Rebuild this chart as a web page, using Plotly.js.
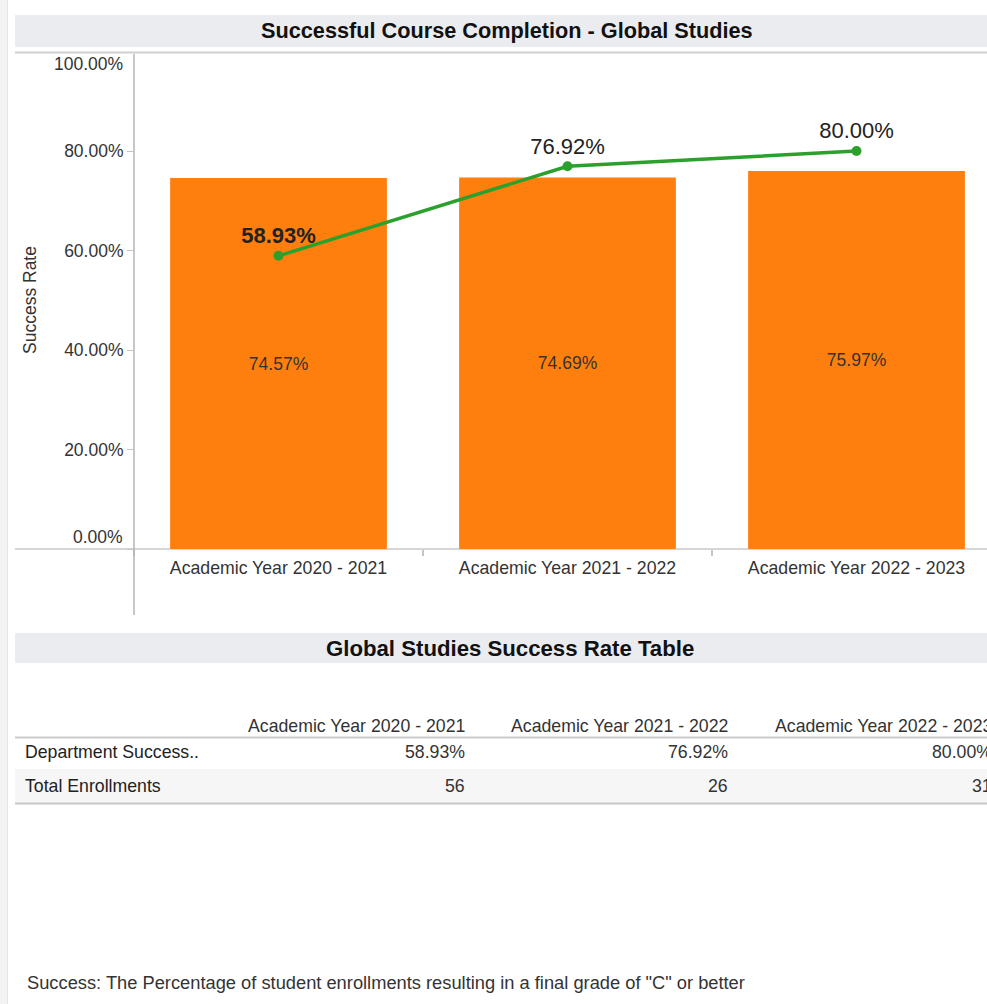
<!DOCTYPE html>
<html>
<head>
<meta charset="utf-8">
<script src="https://cdn.plot.ly/plotly-3.0.1.min.js"></script>
<style>
html,body{margin:0;padding:0;background:#fff;overflow:hidden;}
#chart{width:987px;height:1004px;}
</style>
</head>
<body>
<div id="chart"></div>
<script>
// ---- data ----
const categories = ['Academic Year 2020 - 2021', 'Academic Year 2021 - 2022', 'Academic Year 2022 - 2023'];
const overallRate = [0.7457, 0.7469, 0.7597];
const deptRate = [0.5893, 0.7692, 0.8000];
const enrollments = [56, 26, 31];
const yTickVals = [0, 0.2, 0.4, 0.6, 0.8, 1];
const rowLabels = ['Department Success..', 'Total Enrollments'];
const chartTitle = 'Successful Course Completion - Global Studies';
const tableTitle = 'Global Studies Success Rate Table';
const yTitle = 'Success Rate';
const footnote = 'Success: The Percentage of student enrollments resulting in a final grade of "C" or better';

// ---- layout helpers ----
const W = 987, H = 1004;
const px = v => v / W;
const py = v => 1 - v / H;
const FONT = '"Liberation Sans", Arial, sans-serif';
const pct = v => (v * 100).toFixed(2) + '%';
const TXT = 17.7;

const bars = {
  type: 'bar', x: categories, y: overallRate,
  marker: {color: '#ff7f0e'}, width: 0.75,
  texttemplate: '%{y:.2%}', textposition: 'inside', insidetextanchor: 'middle',
  textangle: 0, constraintext: 'none',
  insidetextfont: {family: FONT, size: 17.5, color: '#333'},
  hoverinfo: 'skip', showlegend: false
};
const line = {
  type: 'scatter', mode: 'lines+markers+text', x: categories, y: deptRate,
  line: {color: '#2ca02c', width: 3.5}, marker: {color: '#2ca02c', size: 10},
  text: deptRate.map(pct), textposition: 'top center',
  textfont: {family: FONT, size: 22, color: '#222', weight: [700, 400, 400]},
  hoverinfo: 'skip', showlegend: false, cliponaxis: false
};

const innerTicks = yTickVals.filter(v => v < 1);

const shapes = [
  {type:'rect', xref:'paper', yref:'paper', x0:0, x1:px(7), y0:0, y1:1, fillcolor:'#f3f3f3', line:{width:0}, layer:'below'},
  {type:'line', xref:'paper', yref:'paper', x0:px(7.5), x1:px(7.5), y0:0, y1:1, line:{color:'#e4e4e4', width:1}, layer:'below'},
  {type:'rect', xref:'paper', yref:'paper', x0:px(15), x1:1, y0:py(47), y1:py(15), fillcolor:'#ebecf0', line:{width:0}, layer:'below'},
  {type:'line', xref:'paper', yref:'paper', x0:px(15), x1:1, y0:py(52.5), y1:py(52.5), line:{color:'#cfcfcf', width:2}, layer:'below'},
  {type:'rect', xref:'paper', yref:'paper', x0:px(15), x1:1, y0:py(663), y1:py(633), fillcolor:'#ebecf0', line:{width:0}, layer:'below'},
  {type:'line', xref:'paper', yref:'paper', x0:px(134), x1:px(134), y0:py(54), y1:py(615), line:{color:'#b4b4b4', width:1.5}, layer:'above'},
  {type:'line', xref:'paper', yref:'paper', x0:px(15), x1:1, y0:py(549), y1:py(549), line:{color:'#d6d6d6', width:2}, layer:'below'},
  {type:'line', xref:'paper', yref:'paper', x0:px(15), x1:1, y0:py(737.5), y1:py(737.5), line:{color:'#cccccc', width:2}, layer:'below'},
  {type:'rect', xref:'paper', yref:'paper', x0:px(15), x1:1, y0:py(803), y1:py(769), fillcolor:'#f6f6f6', line:{width:0}, layer:'below'},
  {type:'line', xref:'paper', yref:'paper', x0:px(15), x1:1, y0:py(803.5), y1:py(803.5), line:{color:'#c8c8c8', width:2}, layer:'below'}
];

const ann = [];
const A = o => Object.assign({showarrow:false, borderpad:0, borderwidth:0, xref:'paper', yref:'paper', yanchor:'middle'}, o);
ann.push(A({x:px(507), y:py(31), text:'<b>'+chartTitle+'</b>', xanchor:'center', font:{family:FONT, size:21.7, color:'#111'}}));
ann.push(A({x:px(510), y:py(648), text:'<b>'+tableTitle+'</b>', xanchor:'center', font:{family:FONT, size:22.2, color:'#111'}}));
ann.push(A({x:px(30), y:py(300), text:yTitle, textangle:-90, xanchor:'center', font:{family:FONT, size:17.5, color:'#333'}}));
ann.push(A({yref:'y', x:px(122.5), y:yTickVals[0], yshift:12, text:pct(yTickVals[0]), xanchor:'right', font:{family:FONT, size:17.5, color:'#333'}}));
ann.push(A({yref:'y', x:px(122.5), y:yTickVals[yTickVals.length-1], yshift:-13, text:pct(yTickVals[yTickVals.length-1]), xanchor:'right', font:{family:FONT, size:17.5, color:'#333'}}));

// table
const colRight = [465, 728, 992];
const rowY = [752, 786];
categories.forEach((c, i) => {
  ann.push(A({x:px(colRight[i]), y:py(726), text:c, xanchor:'right', font:{family:FONT, size:TXT, color:'#333'}}));
  ann.push(A({x:px(colRight[i]), y:py(rowY[0]), text:pct(deptRate[i]), xanchor:'right', font:{family:FONT, size:TXT, color:'#333'}}));
  ann.push(A({x:px(colRight[i]), y:py(rowY[1]), text:String(enrollments[i]), xanchor:'right', font:{family:FONT, size:TXT, color:'#333'}}));
});
rowLabels.forEach((r, i) => {
  ann.push(A({x:px(25), y:py(rowY[i]), text:r, xanchor:'left', font:{family:FONT, size:TXT, color:'#222'}}));
});
ann.push(A({x:px(27), y:py(982), text:footnote, xanchor:'left', font:{family:FONT, size:18.3, color:'#333'}}));

const layout = {
  width: W, height: H,
  margin: {l:0, r:0, t:0, b:0, pad:0},
  paper_bgcolor: '#fff', plot_bgcolor: 'rgba(0,0,0,0)',
  font: {family: FONT, size: 17, color: '#333'},
  showlegend: false, hovermode: false,
  xaxis: {
    domain: [px(134), 1], range: [-0.5, 2.5 - (1001 - 987) / 289],
    type: 'category', showgrid: false, zeroline: false, showline: false,
    ticks: 'outside', tickson: 'boundaries', ticklen: 6, tickwidth: 2, tickcolor: '#c4c4c4',
    ticklabelstandoff: 6,
    tickfont: {family: FONT, size: TXT, color: '#333'}, fixedrange: true
  },
  yaxis: {
    domain: [py(549), py(51.5)], range: [0, 1],
    showgrid: false, zeroline: false, showline: false,
    tickvals: innerTicks, ticktext: innerTicks.map(v => v === 0 ? '' : pct(v)),
    ticks: 'outside', ticklen: 6, tickwidth: 1, tickcolor: '#c4c4c4',
    tickfont: {family: FONT, size: 17.5, color: '#333'}, fixedrange: true
  },
  shapes: shapes,
  annotations: ann,
  bargap: 0.25
};

Plotly.newPlot('chart', [bars, line], layout, {displayModeBar: false, staticPlot: true});
</script>
</body>
</html>
